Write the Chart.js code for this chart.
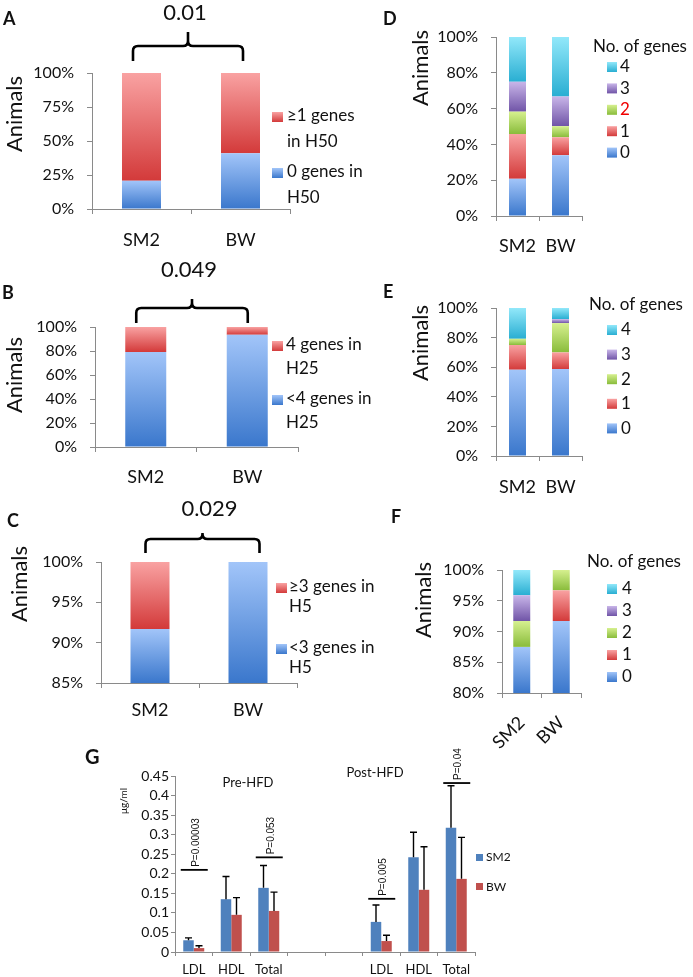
<!DOCTYPE html>
<html>
<head>
<meta charset="utf-8">
<script src="https://cdn.jsdelivr.net/npm/chart.js@4.4.1/dist/chart.umd.min.js"></script>
<style>
  html, body { margin: 0; padding: 0; background: #fff; }
  #wrap { position: relative; width: 693px; height: 977px; overflow: hidden; }
  #wrap canvas { position: absolute; left: 0; top: 0; }
</style>
</head>
<body>
<div id="wrap"></div>
<script>
// ---- data (percent of animals) ----
const groups = ['SM2', 'BW'];

// A: genes in H50
const aZero = [20.8, 41];
const aOneUp = [79.2, 59];
const aTicks = [0, 25, 50, 75, 100];

// B: genes in H25
const bUnder4 = [79.2, 93.5];
const bFour = [20.8, 6.5];
const bTicks = [0, 20, 40, 60, 80, 100];

// C: genes in H5
const cUnder3 = [91.7, 100];
const cThreeUp = [8.3, 0];
const cTicks = [85, 90, 95, 100];

// D, E, F: share of animals by number of genes (0..4)
const geneCounts = ['0', '1', '2', '3', '4'];
const dSM2 = [20.8, 25, 12.5, 16.7, 25];
const dBW = [34, 10, 6.2, 16.6, 33.2];
const eSM2 = [58.3, 16.7, 4.2, 0, 20.8];
const eBW = [58.7, 11.3, 19.8, 2.7, 7.5];
const fSM2 = [87.5, 0, 4.2, 4.2, 4.1];
const fBW = [91.7, 5, 3.3, 0, 0];
const pctTicks = [0, 20, 40, 60, 80, 100];
const fTicks = [80, 85, 90, 95, 100];

// G: lipids (ug/ml), mean and upper error
const lipidCats = ['LDL', 'HDL', 'Total', '', '', 'LDL', 'HDL', 'Total'];
const sm2Mean = [0.03, 0.135, 0.164, null, null, 0.077, 0.242, 0.318];
const sm2Err = [0.006, 0.058, 0.057, null, null, 0.043, 0.064, 0.107];
const bwMean = [0.01, 0.095, 0.105, null, null, 0.028, 0.159, 0.187];
const bwErr = [0.006, 0.044, 0.048, null, null, 0.015, 0.11, 0.106];
const gTicks = [0, 0.05, 0.1, 0.15, 0.2, 0.25, 0.3, 0.35, 0.4, 0.45];
const sigCat = [0, 2, 5, 7];
const sigLevel = [0.21, 0.242, 0.136, 0.432];
const sigLabel = ['P=0.00003', 'P=0.053', 'P=0.005', 'P=0.04'];

// ---- look ----
const W = 693, H = 977;
const FONT = 'Lato, "Open Sans", sans-serif';
const INK = '#111';
const AXIS = '#8a8a8a';
const BLUE = ['#a2c5f9', '#3a77cc'];
const RED = ['#f9a2a2', '#d33a3a'];
const GREEN = ['#d6f08f', '#89bc3b'];
const PURPLE = ['#c9b6e9', '#7054a7'];
const CYAN = ['#92e8fa', '#29aed2'];
const geneColors = [BLUE, RED, GREEN, PURPLE, CYAN];

function addCanvas() {
  const c = document.createElement('canvas');
  c.width = W;
  c.height = H;
  document.getElementById('wrap').appendChild(c);
  return c;
}

// vertical gradient per stacked segment, light on top, dark at the bottom
function segFill(pair) {
  return function (ctx) {
    const chart = ctx.chart;
    const y = chart.scales.y;
    if (ctx.type !== 'data' || !y) return pair[1];
    let start = 0;
    for (let d = 0; d < ctx.datasetIndex; d++) {
      start += chart.data.datasets[d].data[ctx.dataIndex] || 0;
    }
    const end = start + (ctx.raw || 0);
    const top = y.getPixelForValue(Math.min(end, y.max));
    const bot = y.getPixelForValue(Math.max(start, y.min));
    if (!(bot > top)) return pair[1];
    const g = chart.ctx.createLinearGradient(0, top, 0, bot);
    g.addColorStop(0, pair[0]);
    g.addColorStop(1, pair[1]);
    return g;
  };
}

// ---- canvas helpers ----
function text(ctx, t, x, y, font, align, color) {
  ctx.save();
  ctx.font = font;
  ctx.fillStyle = color || INK;
  ctx.textAlign = align || 'left';
  ctx.textBaseline = 'middle';
  ctx.fillText(t, x, y);
  ctx.restore();
}

function rotText(ctx, t, x, y, font, align) {
  ctx.save();
  ctx.translate(x, y);
  ctx.rotate(-Math.PI / 2);
  ctx.font = font;
  ctx.fillStyle = INK;
  ctx.textAlign = align || 'center';
  ctx.textBaseline = 'middle';
  ctx.fillText(t, 0, 0);
  ctx.restore();
}

function swatch(ctx, pair, x, y, w, h) {
  const g = ctx.createLinearGradient(0, y, 0, y + h);
  g.addColorStop(0, pair[0]);
  g.addColorStop(1, pair[1]);
  ctx.fillStyle = g;
  ctx.fillRect(x, y, w, h);
}

function brace(ctx, x0, x1, yLeg, yBar, yTip) {
  const xm = (x0 + x1) / 2, r = 5;
  ctx.save();
  ctx.strokeStyle = '#000';
  ctx.lineWidth = 2.6;
  ctx.lineCap = 'butt';
  ctx.beginPath();
  ctx.moveTo(x0, yLeg);
  ctx.lineTo(x0, yBar + r);
  ctx.quadraticCurveTo(x0, yBar, x0 + r, yBar);
  ctx.lineTo(xm - r, yBar);
  ctx.quadraticCurveTo(xm, yBar, xm, yBar - r);
  ctx.lineTo(xm, yTip);
  ctx.moveTo(xm, yBar - r);
  ctx.quadraticCurveTo(xm, yBar, xm + r, yBar);
  ctx.lineTo(x1 - r, yBar);
  ctx.quadraticCurveTo(x1, yBar, x1, yBar + r);
  ctx.lineTo(x1, yLeg);
  ctx.stroke();
  ctx.restore();
}

function pairLegend(ctx, rows, boxX, textX, lineH) {
  rows.forEach(r => {
    swatch(ctx, r.color, boxX, r.y - 4, 11, 10);
    r.lines.forEach((t, i) => text(ctx, t, textX, r.y + i * lineH, '17px ' + FONT));
  });
}

function geneLegend(ctx, hx, hy, boxX, textX, y0, step, redTwo) {
  text(ctx, 'No. of genes', hx, hy, '17px ' + FONT);
  for (let k = 4; k >= 0; k--) {
    const yy = y0 + (4 - k) * step;
    swatch(ctx, geneColors[k], boxX, yy - 5, 10, 10);
    text(ctx, geneCounts[k], textX, yy, '17px ' + FONT, 'left', redTwo && k === 2 ? '#f00000' : INK);
  }
}

function letter(ctx, t, x, y, size) {
  text(ctx, t, x, y, 'bold ' + size + 'px ' + FONT);
}

// ---- stacked percentage panels ----
function stackedPanel(p) {
  const xh = 70;
  return new Chart(addCanvas(), {
    type: 'bar',
    data: { labels: groups, datasets: p.datasets },
    options: {
      responsive: false,
      animation: false,
      events: [],
      layout: { padding: { left: 0, top: p.area.t, right: W - p.area.r, bottom: H - p.area.b - xh } },
      plugins: { legend: { display: false }, tooltip: { enabled: false } },
      scales: {
        x: {
          stacked: true,
          offset: true,
          grid: { offset: true, drawOnChartArea: false, tickLength: 5, color: AXIS },
          border: { color: AXIS },
          ticks: {
            color: INK, font: { family: FONT, size: 18 }, padding: p.xPad,
            minRotation: p.rot || 0, maxRotation: p.rot || 0
          },
          afterFit: s => { s.height = xh; }
        },
        y: {
          stacked: true,
          min: p.ticks[0],
          max: p.ticks[p.ticks.length - 1],
          grid: { drawOnChartArea: false, tickLength: 5, color: AXIS },
          border: { color: AXIS },
          ticks: { color: INK, font: { family: FONT, size: 16 }, padding: 13, autoSkip: false, callback: v => v + '%' },
          afterBuildTicks: s => { s.ticks = p.ticks.map(v => ({ value: v })); },
          afterFit: s => { s.width = p.area.l; }
        }
      }
    },
    plugins: [{ id: 'decor', afterDraw: p.decor }]
  });
}

function twoSets(bottom, top, barPct) {
  return [
    { data: bottom, backgroundColor: segFill(BLUE), borderWidth: 0, barPercentage: barPct, categoryPercentage: 1, clip: 0 },
    { data: top, backgroundColor: segFill(RED), borderWidth: 0, barPercentage: barPct, categoryPercentage: 1, clip: 0 }
  ];
}

function geneSets(sm2, bw, barPct) {
  return geneCounts.map((g, k) => ({
    label: g,
    data: [sm2[k], bw[k]],
    backgroundColor: segFill(geneColors[k]),
    borderWidth: 0,
    barPercentage: barPct,
    categoryPercentage: 1,
    clip: 0
  }));
}

// A
stackedPanel({
  area: { l: 92, t: 73, r: 290, b: 209 },
  ticks: aTicks, xPad: 15,
  datasets: twoSets(aZero, aOneUp, 0.394),
  decor(chart) {
    const ctx = chart.ctx, x = chart.scales.x, y = chart.scales.y;
    const top = y.getPixelForValue(100);
    const x0 = x.getPixelForValue(0) - 8.5, x1 = x.getPixelForValue(1) + 2.5;
    letter(ctx, 'A', 3, 19, 18);
    rotText(ctx, 'Animals', 15, 114, '22px ' + FONT);
    brace(ctx, x0, x1, top - 12, top - 27, top - 41);
    text(ctx, '0.01', (x0 + x1) / 2 - 3, top - 60, '22px ' + FONT, 'center');
    pairLegend(ctx, [
      { color: RED, lines: ['\u22651 genes', 'in H50'], y: 116 },
      { color: BLUE, lines: ['0 genes in', 'H50'], y: 172 }
    ], 272, 287, 26);
  }
});

// B
stackedPanel({
  area: { l: 95, t: 327, r: 298, b: 447 },
  ticks: bTicks, xPad: 14,
  datasets: twoSets(bUnder4, bFour, 0.404),
  decor(chart) {
    const ctx = chart.ctx, x = chart.scales.x, y = chart.scales.y;
    const top = y.getPixelForValue(100);
    const x0 = x.getPixelForValue(0) - 9.5, x1 = x.getPixelForValue(1) + 0.5;
    letter(ctx, 'B', 2, 293, 18);
    rotText(ctx, 'Animals', 15, 375, '22px ' + FONT);
    brace(ctx, x0, x1, top - 4, top - 19, top - 28);
    text(ctx, '0.049', (x0 + x1) / 2 - 3, top - 57, '22px ' + FONT, 'center');
    pairLegend(ctx, [
      { color: RED, lines: ['4 genes in', 'H25'], y: 345 },
      { color: BLUE, lines: ['<4 genes in', 'H25'], y: 399 }
    ], 272, 286, 24);
  }
});

// C
stackedPanel({
  area: { l: 101, t: 562, r: 297, b: 683 },
  ticks: cTicks, xPad: 11,
  datasets: twoSets(cUnder3, cThreeUp, 0.398),
  decor(chart) {
    const ctx = chart.ctx, x = chart.scales.x, y = chart.scales.y;
    const top = y.getPixelForValue(100);
    const x0 = x.getPixelForValue(0) - 4.5, x1 = x.getPixelForValue(1) + 11.5;
    letter(ctx, 'C', 7, 521, 18);
    rotText(ctx, 'Animals', 20, 584, '22px ' + FONT);
    brace(ctx, x0, x1, top - 9, top - 23, top - 29);
    text(ctx, '0.029', (x0 + x1) / 2 + 7, top - 53, '22px ' + FONT, 'center');
    pairLegend(ctx, [
      { color: RED, lines: ['\u22653 genes in', 'H5'], y: 587 },
      { color: BLUE, lines: ['<3 genes in', 'H5'], y: 648 }
    ], 276, 289, 20);
  }
});

// D
stackedPanel({
  area: { l: 496, t: 37, r: 582, b: 216 },
  ticks: pctTicks, xPad: 14,
  datasets: geneSets(dSM2, dBW, 0.395),
  decor(chart) {
    const ctx = chart.ctx;
    letter(ctx, 'D', 383, 19, 18);
    rotText(ctx, 'Animals', 421, 68, '22px ' + FONT);
    geneLegend(ctx, 593, 47, 607, 620, 67, 21.4, true);
  }
});

// E
stackedPanel({
  area: { l: 496, t: 308, r: 582, b: 456 },
  ticks: pctTicks, xPad: 15,
  datasets: geneSets(eSM2, eBW, 0.395),
  decor(chart) {
    const ctx = chart.ctx;
    letter(ctx, 'E', 383, 292, 18);
    rotText(ctx, 'Animals', 421, 343, '22px ' + FONT);
    geneLegend(ctx, 589, 305, 607, 621, 330, 24.6, false);
  }
});

// F
stackedPanel({
  area: { l: 502, t: 570, r: 581, b: 693 },
  ticks: fTicks, xPad: 14, rot: 45,
  datasets: geneSets(fSM2, fBW, 0.43),
  decor(chart) {
    const ctx = chart.ctx;
    letter(ctx, 'F', 391, 517, 18);
    rotText(ctx, 'Animals', 424, 600, '22px ' + FONT);
    geneLegend(ctx, 587, 562, 607, 622, 589, 22, false);
  }
});

// G: lipid levels with error bars
const gArea = { l: 175, t: 776, r: 475, b: 952 };
const gxh = 40;
new Chart(addCanvas(), {
  type: 'bar',
  data: {
    labels: lipidCats,
    datasets: [
      { label: 'SM2', data: sm2Mean, err: sm2Err, backgroundColor: '#4f81bd', borderWidth: 0 },
      { label: 'BW', data: bwMean, err: bwErr, backgroundColor: '#c0504d', borderWidth: 0 }
    ]
  },
  options: {
    responsive: false,
    animation: false,
    events: [],
    layout: { padding: { left: 0, top: gArea.t, right: W - gArea.r, bottom: H - gArea.b - gxh } },
    datasets: { bar: { categoryPercentage: 0.56, barPercentage: 1 } },
    plugins: { legend: { display: false }, tooltip: { enabled: false } },
    scales: {
      x: {
        offset: true,
        grid: { offset: true, drawOnChartArea: false, tickLength: 4, color: AXIS },
        border: { color: AXIS },
        ticks: { color: INK, font: { family: FONT, size: 13 }, padding: 6, autoSkip: false, maxRotation: 0 },
        afterFit: s => { s.height = gxh; }
      },
      y: {
        min: 0,
        max: 0.45,
        grid: { drawOnChartArea: false, tickLength: 4, color: AXIS },
        border: { color: AXIS },
        ticks: { color: INK, font: { family: FONT, size: 14 }, padding: 2, autoSkip: false, callback: v => String(parseFloat(v.toFixed(2))) },
        afterBuildTicks: s => { s.ticks = gTicks.map(v => ({ value: v })); },
        afterFit: s => { s.width = gArea.l; }
      }
    }
  },
  plugins: [{
    id: 'errorsAndNotes',
    afterDatasetsDraw(chart) {
      const ctx = chart.ctx, x = chart.scales.x, y = chart.scales.y;
      ctx.save();
      ctx.strokeStyle = '#000';
      ctx.lineWidth = 1.4;
      chart.data.datasets.forEach((ds, i) => {
        const meta = chart.getDatasetMeta(i);
        ds.data.forEach((v, j) => {
          if (v == null || ds.err[j] == null) return;
          const bar = meta.data[j];
          const yt = y.getPixelForValue(v + ds.err[j]);
          ctx.beginPath();
          ctx.moveTo(bar.x, bar.y);
          ctx.lineTo(bar.x, yt);
          ctx.moveTo(bar.x - 3.5, yt);
          ctx.lineTo(bar.x + 3.5, yt);
          ctx.stroke();
        });
      });
      ctx.lineWidth = 1.8;
      sigCat.forEach((c, k) => {
        const xc = x.getPixelForValue(c);
        const yl = y.getPixelForValue(sigLevel[k]);
        ctx.beginPath();
        ctx.moveTo(xc - 13, yl);
        ctx.lineTo(xc + 14, yl);
        ctx.stroke();
        rotText(ctx, sigLabel[k], xc + 2, yl - 3, '10px "Liberation Sans", Arial, sans-serif', 'left');
      });
      ctx.restore();
    },
    afterDraw(chart) {
      const ctx = chart.ctx;
      letter(ctx, 'G', 85, 758, 20);
      rotText(ctx, '\u03bcg/ml', 124, 801, '10px ' + FONT);
      text(ctx, 'Pre-HFD', 248, 783, '13px ' + FONT, 'center');
      text(ctx, 'Post-HFD', 375, 773, '13px ' + FONT, 'center');
      ctx.fillStyle = '#4f81bd';
      ctx.fillRect(476, 854, 7, 7);
      ctx.fillStyle = '#c0504d';
      ctx.fillRect(476, 883, 7, 7);
      text(ctx, 'SM2', 486, 857, '12px ' + FONT);
      text(ctx, 'BW', 486, 887, '12px ' + FONT);
    }
  }]
});
</script>
</body>
</html>
